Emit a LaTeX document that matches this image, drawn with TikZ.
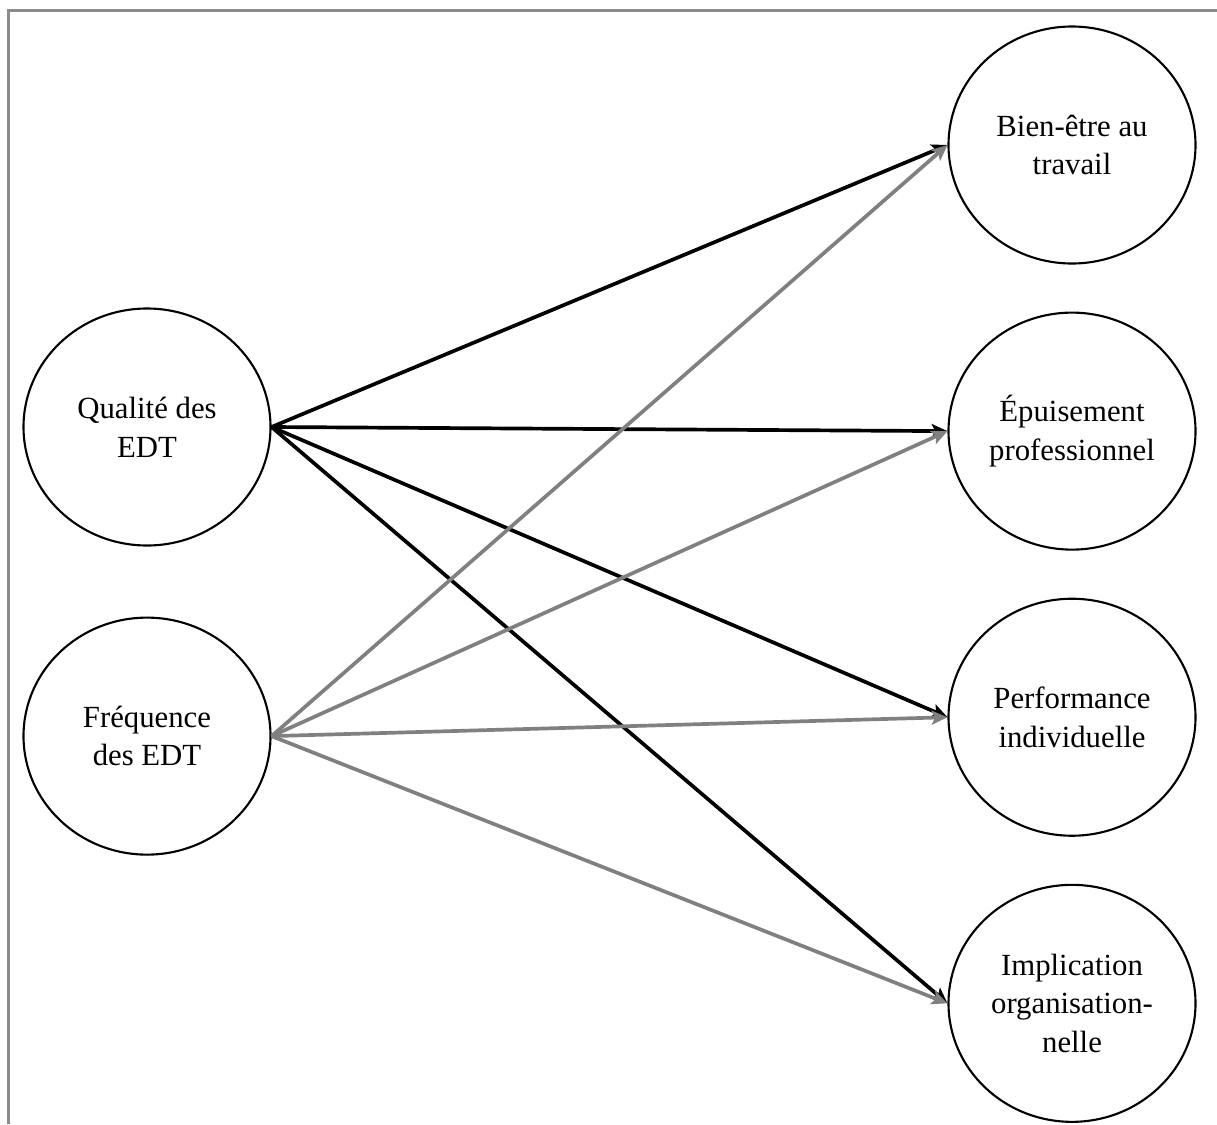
\documentclass[tikz,border=0pt]{standalone}
\usepackage{fontspec}
\setmainfont{Liberation Serif}
\usepackage{xcolor}
\usepackage{tikz}
\usetikzlibrary{arrows.meta,positioning,shapes.geometric}

\definecolor{framegray}{RGB}{140,140,140}
\definecolor{linkgray}{RGB}{128,128,128}

\begin{document}
\begin{tikzpicture}[
    var/.style={
        draw,
        ellipse,
        inner sep=0pt,
        line width=1.2pt,
        minimum width=4.94cm,
        minimum height=4.74cm,
        align=center,
        font=\fontsize{17.5}{22}\selectfont
    },
    qualarrow/.style={-{Stealth[length=9pt,width=8pt,inset=2pt]}, line width=2.1pt, black},
    freqarrow/.style={-{Stealth[length=9pt,width=8pt,inset=2pt]}, line width=2.1pt, linkgray}
]
\useasboundingbox (0,0) rectangle (24.34,-22.48);
\draw[framegray, line width=1.2pt] (24.34,-0.21) -- (0.17,-0.21) -- (0.17,-22.48);

\node[var] (qual) at (2.94,-8.54) {Qualité des\\EDT};
\node[var, below=1.4cm of qual] (freq) {Fréquence\\des EDT};

\node[var] (bien) at (21.44,-2.90) {Bien-être au\\travail};
\node[var, below=0.94cm of bien] (epuis) {Épuisement\\professionnel};
\node[var, below=0.94cm of epuis] (perf) {Performance\\individuelle};
\node[var, below=0.94cm of perf] (impl) {Implication\\organisation-\\nelle};

\draw[qualarrow] (qual.east) -- (bien.west);
\draw[qualarrow] (qual.east) -- (epuis.west);
\draw[qualarrow] (qual.east) -- (perf.west);
\draw[qualarrow] (qual.east) -- (impl.west);

\draw[freqarrow] (freq.east) -- (bien.west);
\draw[freqarrow] (freq.east) -- (epuis.west);
\draw[freqarrow] (freq.east) -- (perf.west);
\draw[freqarrow] (freq.east) -- (impl.west);
\end{tikzpicture}
\end{document}
